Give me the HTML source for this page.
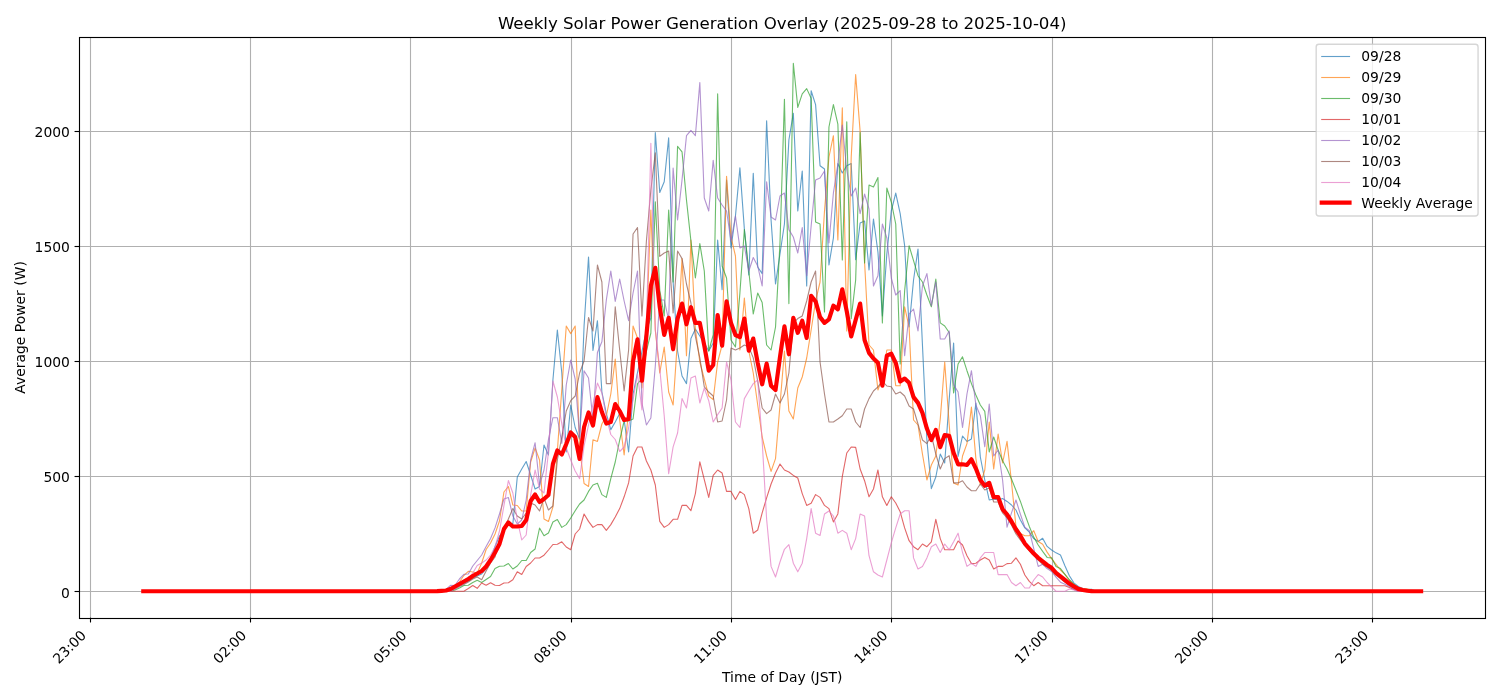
<!DOCTYPE html>
<html><head><meta charset="utf-8"><title>Weekly Solar Power Generation Overlay</title>
<style>html,body{margin:0;padding:0;background:#fff;overflow:hidden}svg{display:block}</style></head>
<body>
<svg width="1500" height="700" viewBox="0 0 1500 700">
<rect x="0" y="0" width="1500" height="700" fill="#ffffff"/>
<g stroke="#b0b0b0" stroke-width="1.11" fill="none">
<line x1="90.5" y1="37.33" x2="90.5" y2="617.63"/>
<line x1="250.5" y1="37.33" x2="250.5" y2="617.63"/>
<line x1="410.5" y1="37.33" x2="410.5" y2="617.63"/>
<line x1="571.5" y1="37.33" x2="571.5" y2="617.63"/>
<line x1="731.5" y1="37.33" x2="731.5" y2="617.63"/>
<line x1="891.5" y1="37.33" x2="891.5" y2="617.63"/>
<line x1="1052.5" y1="37.33" x2="1052.5" y2="617.63"/>
<line x1="1212.5" y1="37.33" x2="1212.5" y2="617.63"/>
<line x1="1372.5" y1="37.33" x2="1372.5" y2="617.63"/>
<line x1="79.4" y1="591.5" x2="1485.0" y2="591.5"/>
<line x1="79.4" y1="476.5" x2="1485.0" y2="476.5"/>
<line x1="79.4" y1="361.5" x2="1485.0" y2="361.5"/>
<line x1="79.4" y1="246.5" x2="1485.0" y2="246.5"/>
<line x1="79.4" y1="131.5" x2="1485.0" y2="131.5"/>
</g>
<g fill="none" stroke-linejoin="round" stroke-linecap="square">
<polyline points="143.29,591.25 147.75,591.25 152.20,591.25 156.65,591.25 161.10,591.25 165.56,591.25 170.01,591.25 174.46,591.25 178.91,591.25 183.36,591.25 187.82,591.25 192.27,591.25 196.72,591.25 201.17,591.25 205.63,591.25 210.08,591.25 214.53,591.25 218.98,591.25 223.44,591.25 227.89,591.25 232.34,591.25 236.79,591.25 241.24,591.25 245.70,591.25 250.15,591.25 254.60,591.25 259.05,591.25 263.51,591.25 267.96,591.25 272.41,591.25 276.86,591.25 281.32,591.25 285.77,591.25 290.22,591.25 294.67,591.25 299.12,591.25 303.58,591.25 308.03,591.25 312.48,591.25 316.93,591.25 321.39,591.25 325.84,591.25 330.29,591.25 334.74,591.25 339.20,591.25 343.65,591.25 348.10,591.25 352.55,591.25 357.00,591.25 361.46,591.25 365.91,591.25 370.36,591.25 374.81,591.25 379.27,591.25 383.72,591.25 388.17,591.25 392.62,591.25 397.08,591.25 401.53,591.25 405.98,591.25 410.43,591.25 414.89,591.25 419.34,591.25 423.79,591.25 428.24,591.25 432.69,591.25 437.15,591.25 441.60,591.25 446.05,591.25 450.50,591.20 454.96,588.50 459.41,586.00 463.86,583.50 468.31,581.00 472.77,578.00 477.22,576.00 481.67,574.00 486.12,569.00 490.57,559.00 495.03,546.50 499.48,536.00 503.93,530.00 508.38,523.00 512.84,524.00 517.29,477.00 521.74,469.00 526.19,461.50 530.65,475.00 535.10,489.00 539.55,486.50 544.00,445.00 548.45,455.00 552.91,380.00 557.36,330.00 561.81,373.00 566.26,452.00 570.72,405.00 575.17,427.50 579.62,439.00 584.07,326.00 588.53,257.00 592.98,350.40 597.43,320.70 601.88,392.00 606.33,413.60 610.79,429.60 615.24,422.00 619.69,413.60 624.14,420.00 628.60,452.00 633.05,394.00 637.50,372.67 641.95,351.34 646.41,330.00 650.86,318.00 655.31,132.51 659.76,192.51 664.22,181.81 668.67,137.91 673.12,282.00 677.57,351.00 682.02,376.00 686.48,383.60 690.93,338.60 695.38,329.00 699.83,336.00 704.29,343.00 708.74,351.00 713.19,343.00 717.64,240.00 722.10,289.60 726.55,180.01 731.00,248.00 735.45,216.00 739.90,167.91 744.36,229.00 748.81,275.00 753.26,173.21 757.71,267.00 762.17,273.60 766.62,120.71 771.07,220.00 775.52,284.00 779.98,254.00 784.43,224.00 788.88,140.01 793.33,113.21 797.78,211.00 802.24,171.01 806.69,286.00 811.14,90.71 815.59,104.61 820.05,165.71 824.50,169.01 828.95,265.00 833.40,238.00 837.86,163.61 842.31,173.01 846.76,165.71 851.21,163.61 855.66,259.60 860.12,223.00 864.57,221.00 869.02,270.00 873.47,219.00 877.93,252.00 882.38,316.00 886.83,254.00 891.28,211.00 895.74,193.01 900.19,213.60 904.64,245.70 909.09,327.00 913.54,280.00 918.00,249.00 922.45,345.00 926.90,440.00 931.35,488.60 935.81,477.00 940.26,454.00 944.71,463.00 949.16,400.00 953.62,343.00 958.07,456.40 962.52,436.00 966.97,441.40 971.43,439.00 975.88,403.00 980.33,457.00 984.78,480.00 989.23,500.00 993.69,499.00 998.14,500.00 1002.59,498.57 1007.04,501.43 1011.50,505.00 1015.95,510.00 1020.40,520.00 1024.85,527.86 1029.31,532.14 1033.76,538.57 1038.21,541.43 1042.66,538.29 1047.11,546.43 1051.57,550.00 1056.02,552.86 1060.47,555.00 1064.92,565.71 1069.38,575.71 1073.83,582.86 1078.28,586.43 1082.73,588.57 1087.19,589.29 1091.64,589.29 1096.09,591.25 1100.54,591.25 1104.99,591.25 1109.45,591.25 1113.90,591.25 1118.35,591.25 1122.80,591.25 1127.26,591.25 1131.71,591.25 1136.16,591.25 1140.61,591.25 1145.07,591.25 1149.52,591.25 1153.97,591.25 1158.42,591.25 1162.87,591.25 1167.33,591.25 1171.78,591.25 1176.23,591.25 1180.68,591.25 1185.14,591.25 1189.59,591.25 1194.04,591.25 1198.49,591.25 1202.95,591.25 1207.40,591.25 1211.85,591.25 1216.30,591.25 1220.76,591.25 1225.21,591.25 1229.66,591.25 1234.11,591.25 1238.56,591.25 1243.02,591.25 1247.47,591.25 1251.92,591.25 1256.37,591.25 1260.83,591.25 1265.28,591.25 1269.73,591.25 1274.18,591.25 1278.64,591.25 1283.09,591.25 1287.54,591.25 1291.99,591.25 1296.44,591.25 1300.90,591.25 1305.35,591.25 1309.80,591.25 1314.25,591.25 1318.71,591.25 1323.16,591.25 1327.61,591.25 1332.06,591.25 1336.52,591.25 1340.97,591.25 1345.42,591.25 1349.87,591.25 1354.32,591.25 1358.78,591.25 1363.23,591.25 1367.68,591.25 1372.13,591.25 1376.59,591.25 1381.04,591.25 1385.49,591.25 1389.94,591.25 1394.40,591.25 1398.85,591.25 1403.30,591.25 1407.75,591.25 1412.20,591.25 1416.66,591.25 1421.11,591.25" stroke="#1f77b4" stroke-width="1.11" stroke-opacity="0.7"/>
<polyline points="143.29,591.25 147.75,591.25 152.20,591.25 156.65,591.25 161.10,591.25 165.56,591.25 170.01,591.25 174.46,591.25 178.91,591.25 183.36,591.25 187.82,591.25 192.27,591.25 196.72,591.25 201.17,591.25 205.63,591.25 210.08,591.25 214.53,591.25 218.98,591.25 223.44,591.25 227.89,591.25 232.34,591.25 236.79,591.25 241.24,591.25 245.70,591.25 250.15,591.25 254.60,591.25 259.05,591.25 263.51,591.25 267.96,591.25 272.41,591.25 276.86,591.25 281.32,591.25 285.77,591.25 290.22,591.25 294.67,591.25 299.12,591.25 303.58,591.25 308.03,591.25 312.48,591.25 316.93,591.25 321.39,591.25 325.84,591.25 330.29,591.25 334.74,591.25 339.20,591.25 343.65,591.25 348.10,591.25 352.55,591.25 357.00,591.25 361.46,591.25 365.91,591.25 370.36,591.25 374.81,591.25 379.27,591.25 383.72,591.25 388.17,591.25 392.62,591.25 397.08,591.25 401.53,591.25 405.98,591.25 410.43,591.25 414.89,591.25 419.34,591.25 423.79,591.25 428.24,591.25 432.69,591.25 437.15,591.25 441.60,591.25 446.05,591.25 450.50,591.20 454.96,587.00 459.41,582.00 463.86,575.50 468.31,571.30 472.77,572.00 477.22,573.00 481.67,563.00 486.12,549.50 490.57,543.00 495.03,534.00 499.48,521.00 503.93,492.00 508.38,486.50 512.84,505.00 517.29,505.50 521.74,511.00 526.19,511.00 530.65,462.00 535.10,448.00 539.55,460.00 544.00,519.00 548.45,521.50 552.91,507.00 557.36,451.00 561.81,389.00 566.26,326.00 570.72,333.60 575.17,326.00 579.62,448.00 584.07,483.50 588.53,486.50 592.98,439.70 597.43,441.40 601.88,424.00 606.33,416.00 610.79,394.00 615.24,359.00 619.69,420.00 624.14,455.00 628.60,411.00 633.05,326.00 637.50,338.00 641.95,388.00 646.41,330.00 650.86,210.00 655.31,330.00 659.76,373.00 664.22,347.00 668.67,392.00 673.12,405.00 677.57,338.60 682.02,258.60 686.48,355.70 690.93,240.00 695.38,329.00 699.83,362.00 704.29,379.00 708.74,396.00 713.19,399.60 717.64,362.00 722.10,345.00 726.55,176.41 731.00,237.00 735.45,256.00 739.90,350.00 744.36,298.00 748.81,351.00 753.26,373.00 757.71,405.00 762.17,437.00 766.62,456.00 771.07,471.40 775.52,458.60 779.98,405.00 784.43,351.00 788.88,411.00 793.33,419.00 797.78,388.00 802.24,377.00 806.69,358.00 811.14,330.00 815.59,301.00 820.05,282.00 824.50,211.00 828.95,157.01 833.40,135.71 837.86,240.00 842.31,107.91 846.76,331.00 851.21,157.01 855.66,74.61 860.12,131.41 864.57,262.00 869.02,345.00 873.47,350.00 877.93,390.00 882.38,378.00 886.83,350.00 891.28,350.00 895.74,385.70 900.19,385.70 904.64,306.80 909.09,327.00 913.54,420.00 918.00,425.00 922.45,454.00 926.90,480.00 931.35,465.00 935.81,456.00 940.26,419.00 944.71,362.00 949.16,424.00 953.62,483.00 958.07,485.00 962.52,456.00 966.97,443.60 971.43,407.00 975.88,458.60 980.33,485.00 984.78,470.00 989.23,422.00 993.69,469.00 998.14,434.00 1002.59,463.00 1007.04,441.40 1011.50,482.00 1015.95,526.43 1020.40,533.57 1024.85,535.72 1029.31,535.72 1033.76,530.72 1038.21,541.43 1042.66,544.29 1047.11,552.14 1051.57,558.57 1056.02,564.29 1060.47,570.00 1064.92,574.29 1069.38,580.00 1073.83,584.29 1078.28,587.86 1082.73,588.57 1087.19,588.86 1091.64,590.00 1096.09,591.25 1100.54,591.25 1104.99,591.25 1109.45,591.25 1113.90,591.25 1118.35,591.25 1122.80,591.25 1127.26,591.25 1131.71,591.25 1136.16,591.25 1140.61,591.25 1145.07,591.25 1149.52,591.25 1153.97,591.25 1158.42,591.25 1162.87,591.25 1167.33,591.25 1171.78,591.25 1176.23,591.25 1180.68,591.25 1185.14,591.25 1189.59,591.25 1194.04,591.25 1198.49,591.25 1202.95,591.25 1207.40,591.25 1211.85,591.25 1216.30,591.25 1220.76,591.25 1225.21,591.25 1229.66,591.25 1234.11,591.25 1238.56,591.25 1243.02,591.25 1247.47,591.25 1251.92,591.25 1256.37,591.25 1260.83,591.25 1265.28,591.25 1269.73,591.25 1274.18,591.25 1278.64,591.25 1283.09,591.25 1287.54,591.25 1291.99,591.25 1296.44,591.25 1300.90,591.25 1305.35,591.25 1309.80,591.25 1314.25,591.25 1318.71,591.25 1323.16,591.25 1327.61,591.25 1332.06,591.25 1336.52,591.25 1340.97,591.25 1345.42,591.25 1349.87,591.25 1354.32,591.25 1358.78,591.25 1363.23,591.25 1367.68,591.25 1372.13,591.25 1376.59,591.25 1381.04,591.25 1385.49,591.25 1389.94,591.25 1394.40,591.25 1398.85,591.25 1403.30,591.25 1407.75,591.25 1412.20,591.25 1416.66,591.25 1421.11,591.25" stroke="#ff7f0e" stroke-width="1.11" stroke-opacity="0.7"/>
<polyline points="143.29,591.25 147.75,591.25 152.20,591.25 156.65,591.25 161.10,591.25 165.56,591.25 170.01,591.25 174.46,591.25 178.91,591.25 183.36,591.25 187.82,591.25 192.27,591.25 196.72,591.25 201.17,591.25 205.63,591.25 210.08,591.25 214.53,591.25 218.98,591.25 223.44,591.25 227.89,591.25 232.34,591.25 236.79,591.25 241.24,591.25 245.70,591.25 250.15,591.25 254.60,591.25 259.05,591.25 263.51,591.25 267.96,591.25 272.41,591.25 276.86,591.25 281.32,591.25 285.77,591.25 290.22,591.25 294.67,591.25 299.12,591.25 303.58,591.25 308.03,591.25 312.48,591.25 316.93,591.25 321.39,591.25 325.84,591.25 330.29,591.25 334.74,591.25 339.20,591.25 343.65,591.25 348.10,591.25 352.55,591.25 357.00,591.25 361.46,591.25 365.91,591.25 370.36,591.25 374.81,591.25 379.27,591.25 383.72,591.25 388.17,591.25 392.62,591.25 397.08,591.25 401.53,591.25 405.98,591.25 410.43,591.25 414.89,591.25 419.34,591.25 423.79,591.25 428.24,591.25 432.69,591.25 437.15,591.25 441.60,591.25 446.05,591.25 450.50,591.20 454.96,590.00 459.41,588.00 463.86,585.50 468.31,585.30 472.77,582.50 477.22,580.30 481.67,582.50 486.12,579.50 490.57,576.50 495.03,568.50 499.48,566.30 503.93,566.00 508.38,563.50 512.84,569.00 517.29,566.00 521.74,560.50 526.19,560.50 530.65,552.50 535.10,549.00 539.55,528.00 544.00,535.70 548.45,533.00 552.91,522.00 557.36,519.50 561.81,527.40 566.26,524.60 570.72,518.00 575.17,510.70 579.62,504.00 584.07,500.00 588.53,491.40 592.98,485.00 597.43,483.30 601.88,494.60 606.33,497.40 610.79,478.60 615.24,462.00 619.69,440.00 624.14,421.00 628.60,421.00 633.05,419.00 637.50,383.60 641.95,379.00 646.41,351.00 650.86,333.00 655.31,201.81 659.76,290.00 664.22,316.00 668.67,210.00 673.12,282.00 677.57,146.41 682.02,151.81 686.48,200.01 690.93,241.00 695.38,278.00 699.83,243.60 704.29,271.00 708.74,351.00 713.19,335.00 717.64,93.91 722.10,266.00 726.55,278.00 731.00,340.00 735.45,347.00 739.90,293.00 744.36,229.60 748.81,271.00 753.26,314.00 757.71,293.00 762.17,302.50 766.62,345.00 771.07,350.00 775.52,327.00 779.98,243.00 784.43,99.31 788.88,303.60 793.33,63.31 797.78,107.41 802.24,93.91 806.69,88.61 811.14,98.21 815.59,222.00 820.05,224.00 824.50,312.00 828.95,127.01 833.40,104.61 837.86,124.01 842.31,260.00 846.76,121.81 851.21,318.60 855.66,280.00 860.12,132.51 864.57,263.00 869.02,185.01 873.47,187.01 877.93,177.51 882.38,323.00 886.83,188.01 891.28,202.01 895.74,224.00 900.19,364.00 904.64,290.70 909.09,245.70 913.54,260.70 918.00,275.70 922.45,282.00 926.90,295.00 931.35,306.80 935.81,279.00 940.26,322.90 944.71,326.00 949.16,332.50 953.62,393.00 958.07,364.00 962.52,356.80 966.97,370.70 971.43,383.60 975.88,395.00 980.33,405.00 984.78,411.40 989.23,452.00 993.69,437.00 998.14,450.00 1002.59,460.70 1007.04,469.00 1011.50,479.00 1015.95,490.22 1020.40,501.43 1024.85,514.29 1029.31,526.43 1033.76,537.14 1038.21,545.00 1042.66,551.43 1047.11,557.43 1051.57,557.86 1056.02,566.43 1060.47,568.57 1064.92,574.29 1069.38,580.00 1073.83,584.29 1078.28,587.86 1082.73,590.00 1087.19,591.25 1091.64,591.25 1096.09,591.25 1100.54,591.25 1104.99,591.25 1109.45,591.25 1113.90,591.25 1118.35,591.25 1122.80,591.25 1127.26,591.25 1131.71,591.25 1136.16,591.25 1140.61,591.25 1145.07,591.25 1149.52,591.25 1153.97,591.25 1158.42,591.25 1162.87,591.25 1167.33,591.25 1171.78,591.25 1176.23,591.25 1180.68,591.25 1185.14,591.25 1189.59,591.25 1194.04,591.25 1198.49,591.25 1202.95,591.25 1207.40,591.25 1211.85,591.25 1216.30,591.25 1220.76,591.25 1225.21,591.25 1229.66,591.25 1234.11,591.25 1238.56,591.25 1243.02,591.25 1247.47,591.25 1251.92,591.25 1256.37,591.25 1260.83,591.25 1265.28,591.25 1269.73,591.25 1274.18,591.25 1278.64,591.25 1283.09,591.25 1287.54,591.25 1291.99,591.25 1296.44,591.25 1300.90,591.25 1305.35,591.25 1309.80,591.25 1314.25,591.25 1318.71,591.25 1323.16,591.25 1327.61,591.25 1332.06,591.25 1336.52,591.25 1340.97,591.25 1345.42,591.25 1349.87,591.25 1354.32,591.25 1358.78,591.25 1363.23,591.25 1367.68,591.25 1372.13,591.25 1376.59,591.25 1381.04,591.25 1385.49,591.25 1389.94,591.25 1394.40,591.25 1398.85,591.25 1403.30,591.25 1407.75,591.25 1412.20,591.25 1416.66,591.25 1421.11,591.25" stroke="#2ca02c" stroke-width="1.11" stroke-opacity="0.7"/>
<polyline points="143.29,591.25 147.75,591.25 152.20,591.25 156.65,591.25 161.10,591.25 165.56,591.25 170.01,591.25 174.46,591.25 178.91,591.25 183.36,591.25 187.82,591.25 192.27,591.25 196.72,591.25 201.17,591.25 205.63,591.25 210.08,591.25 214.53,591.25 218.98,591.25 223.44,591.25 227.89,591.25 232.34,591.25 236.79,591.25 241.24,591.25 245.70,591.25 250.15,591.25 254.60,591.25 259.05,591.25 263.51,591.25 267.96,591.25 272.41,591.25 276.86,591.25 281.32,591.25 285.77,591.25 290.22,591.25 294.67,591.25 299.12,591.25 303.58,591.25 308.03,591.25 312.48,591.25 316.93,591.25 321.39,591.25 325.84,591.25 330.29,591.25 334.74,591.25 339.20,591.25 343.65,591.25 348.10,591.25 352.55,591.25 357.00,591.25 361.46,591.25 365.91,591.25 370.36,591.25 374.81,591.25 379.27,591.25 383.72,591.25 388.17,591.25 392.62,591.25 397.08,591.25 401.53,591.25 405.98,591.25 410.43,591.25 414.89,591.25 419.34,591.25 423.79,591.25 428.24,591.25 432.69,591.25 437.15,591.25 441.60,591.25 446.05,591.25 450.50,591.25 454.96,591.25 459.41,591.25 463.86,591.20 468.31,588.50 472.77,585.50 477.22,588.30 481.67,583.00 486.12,585.30 490.57,582.70 495.03,585.30 499.48,585.50 503.93,583.00 508.38,582.70 512.84,579.70 517.29,571.80 521.74,574.50 526.19,566.50 530.65,563.00 535.10,558.00 539.55,558.00 544.00,555.20 548.45,550.00 552.91,544.50 557.36,544.30 561.81,541.80 566.26,547.00 570.72,549.70 575.17,534.00 579.62,529.00 584.07,514.00 588.53,521.40 592.98,527.40 597.43,524.60 601.88,524.60 606.33,530.40 610.79,524.60 615.24,517.00 619.69,508.60 624.14,496.80 628.60,482.90 633.05,456.00 637.50,447.00 641.95,447.00 646.41,461.00 650.86,470.00 655.31,485.00 659.76,521.40 664.22,527.40 668.67,524.60 673.12,519.30 677.57,519.30 682.02,505.40 686.48,505.40 690.93,510.70 695.38,493.60 699.83,461.80 704.29,479.60 708.74,497.40 713.19,475.40 717.64,470.00 722.10,473.00 726.55,491.40 731.00,491.40 735.45,499.60 739.90,491.40 744.36,494.60 748.81,508.60 753.26,533.20 757.71,530.00 762.17,512.90 766.62,497.90 771.07,484.00 775.52,473.00 779.98,464.00 784.43,470.00 788.88,472.00 793.33,475.40 797.78,478.00 802.24,493.60 806.69,505.40 811.14,503.20 815.59,494.60 820.05,497.40 824.50,505.40 828.95,508.60 833.40,521.90 837.86,513.90 842.31,476.40 846.76,453.00 851.21,447.00 855.66,447.40 860.12,469.00 864.57,480.70 869.02,496.80 873.47,489.00 877.93,470.00 882.38,496.80 886.83,505.40 891.28,496.80 895.74,503.00 900.19,511.80 904.64,527.90 909.09,540.70 913.54,546.70 918.00,549.70 922.45,544.00 926.90,546.70 931.35,541.80 935.81,519.30 940.26,538.60 944.71,549.70 949.16,549.70 953.62,549.70 958.07,541.00 962.52,545.00 966.97,555.70 971.43,563.60 975.88,563.20 980.33,560.00 984.78,557.40 989.23,560.00 993.69,569.00 998.14,566.40 1002.59,566.40 1007.04,563.60 1011.50,563.20 1015.95,557.90 1020.40,564.30 1024.85,575.00 1029.31,581.40 1033.76,585.70 1038.21,582.50 1042.66,585.70 1047.11,585.70 1051.57,585.70 1056.02,585.70 1060.47,585.70 1064.92,585.70 1069.38,587.50 1073.83,589.50 1078.28,591.25 1082.73,591.25 1087.19,591.25 1091.64,591.25 1096.09,591.25 1100.54,591.25 1104.99,591.25 1109.45,591.25 1113.90,591.25 1118.35,591.25 1122.80,591.25 1127.26,591.25 1131.71,591.25 1136.16,591.25 1140.61,591.25 1145.07,591.25 1149.52,591.25 1153.97,591.25 1158.42,591.25 1162.87,591.25 1167.33,591.25 1171.78,591.25 1176.23,591.25 1180.68,591.25 1185.14,591.25 1189.59,591.25 1194.04,591.25 1198.49,591.25 1202.95,591.25 1207.40,591.25 1211.85,591.25 1216.30,591.25 1220.76,591.25 1225.21,591.25 1229.66,591.25 1234.11,591.25 1238.56,591.25 1243.02,591.25 1247.47,591.25 1251.92,591.25 1256.37,591.25 1260.83,591.25 1265.28,591.25 1269.73,591.25 1274.18,591.25 1278.64,591.25 1283.09,591.25 1287.54,591.25 1291.99,591.25 1296.44,591.25 1300.90,591.25 1305.35,591.25 1309.80,591.25 1314.25,591.25 1318.71,591.25 1323.16,591.25 1327.61,591.25 1332.06,591.25 1336.52,591.25 1340.97,591.25 1345.42,591.25 1349.87,591.25 1354.32,591.25 1358.78,591.25 1363.23,591.25 1367.68,591.25 1372.13,591.25 1376.59,591.25 1381.04,591.25 1385.49,591.25 1389.94,591.25 1394.40,591.25 1398.85,591.25 1403.30,591.25 1407.75,591.25 1412.20,591.25 1416.66,591.25 1421.11,591.25" stroke="#d62728" stroke-width="1.11" stroke-opacity="0.7"/>
<polyline points="143.29,591.25 147.75,591.25 152.20,591.25 156.65,591.25 161.10,591.25 165.56,591.25 170.01,591.25 174.46,591.25 178.91,591.25 183.36,591.25 187.82,591.25 192.27,591.25 196.72,591.25 201.17,591.25 205.63,591.25 210.08,591.25 214.53,591.25 218.98,591.25 223.44,591.25 227.89,591.25 232.34,591.25 236.79,591.25 241.24,591.25 245.70,591.25 250.15,591.25 254.60,591.25 259.05,591.25 263.51,591.25 267.96,591.25 272.41,591.25 276.86,591.25 281.32,591.25 285.77,591.25 290.22,591.25 294.67,591.25 299.12,591.25 303.58,591.25 308.03,591.25 312.48,591.25 316.93,591.25 321.39,591.25 325.84,591.25 330.29,591.25 334.74,591.25 339.20,591.25 343.65,591.25 348.10,591.25 352.55,591.25 357.00,591.25 361.46,591.25 365.91,591.25 370.36,591.25 374.81,591.25 379.27,591.25 383.72,591.25 388.17,591.25 392.62,591.25 397.08,591.25 401.53,591.25 405.98,591.25 410.43,591.25 414.89,591.25 419.34,591.25 423.79,591.25 428.24,591.25 432.69,591.25 437.15,591.25 441.60,591.20 446.05,589.50 450.50,585.30 454.96,585.50 459.41,579.00 463.86,574.30 468.31,574.00 472.77,566.00 477.22,560.50 481.67,555.00 486.12,546.50 490.57,538.50 495.03,527.90 499.48,514.00 503.93,499.00 508.38,497.50 512.84,516.00 517.29,524.00 521.74,520.00 526.19,500.00 530.65,460.00 535.10,442.70 539.55,485.00 544.00,470.00 548.45,439.50 552.91,417.70 557.36,417.70 561.81,443.50 566.26,385.00 570.72,360.00 575.17,379.00 579.62,437.00 584.07,370.70 588.53,378.00 592.98,420.00 597.43,352.50 601.88,341.80 606.33,300.00 610.79,271.00 615.24,301.40 619.69,279.00 624.14,301.00 628.60,320.70 633.05,293.00 637.50,271.00 641.95,403.00 646.41,425.00 650.86,418.00 655.31,366.00 659.76,300.00 664.22,300.00 668.67,320.00 673.12,168.01 677.57,220.00 682.02,180.01 686.48,135.71 690.93,130.41 695.38,135.71 699.83,82.61 704.29,198.01 708.74,211.00 713.19,160.41 717.64,198.01 722.10,205.01 726.55,211.00 731.00,241.00 735.45,216.00 739.90,248.00 744.36,246.00 748.81,271.00 753.26,257.50 757.71,266.00 762.17,286.00 766.62,181.81 771.07,217.00 775.52,220.00 779.98,196.01 784.43,193.01 788.88,229.60 793.33,237.00 797.78,253.00 802.24,227.50 806.69,275.70 811.14,226.00 815.59,180.01 820.05,178.01 824.50,171.01 828.95,243.00 833.40,193.01 837.86,164.01 842.31,125.01 846.76,170.01 851.21,196.01 855.66,188.01 860.12,213.60 864.57,194.01 869.02,209.00 873.47,286.00 877.93,275.70 882.38,224.00 886.83,238.00 891.28,278.00 895.74,295.00 900.19,290.70 904.64,355.70 909.09,314.00 913.54,309.00 918.00,331.00 922.45,286.00 926.90,273.60 931.35,305.70 935.81,282.00 940.26,339.00 944.71,339.00 949.16,331.00 953.62,384.60 958.07,392.00 962.52,427.50 966.97,394.00 971.43,370.70 975.88,405.00 980.33,415.70 984.78,446.80 989.23,404.00 993.69,456.00 998.14,450.00 1002.59,480.00 1007.04,527.14 1011.50,512.86 1015.95,500.00 1020.40,514.29 1024.85,527.14 1029.31,530.72 1033.76,548.57 1038.21,566.43 1042.66,564.29 1047.11,568.57 1051.57,571.43 1056.02,577.14 1060.47,582.14 1064.92,584.29 1069.38,586.43 1073.83,589.29 1078.28,591.25 1082.73,591.25 1087.19,591.25 1091.64,591.25 1096.09,591.25 1100.54,591.25 1104.99,591.25 1109.45,591.25 1113.90,591.25 1118.35,591.25 1122.80,591.25 1127.26,591.25 1131.71,591.25 1136.16,591.25 1140.61,591.25 1145.07,591.25 1149.52,591.25 1153.97,591.25 1158.42,591.25 1162.87,591.25 1167.33,591.25 1171.78,591.25 1176.23,591.25 1180.68,591.25 1185.14,591.25 1189.59,591.25 1194.04,591.25 1198.49,591.25 1202.95,591.25 1207.40,591.25 1211.85,591.25 1216.30,591.25 1220.76,591.25 1225.21,591.25 1229.66,591.25 1234.11,591.25 1238.56,591.25 1243.02,591.25 1247.47,591.25 1251.92,591.25 1256.37,591.25 1260.83,591.25 1265.28,591.25 1269.73,591.25 1274.18,591.25 1278.64,591.25 1283.09,591.25 1287.54,591.25 1291.99,591.25 1296.44,591.25 1300.90,591.25 1305.35,591.25 1309.80,591.25 1314.25,591.25 1318.71,591.25 1323.16,591.25 1327.61,591.25 1332.06,591.25 1336.52,591.25 1340.97,591.25 1345.42,591.25 1349.87,591.25 1354.32,591.25 1358.78,591.25 1363.23,591.25 1367.68,591.25 1372.13,591.25 1376.59,591.25 1381.04,591.25 1385.49,591.25 1389.94,591.25 1394.40,591.25 1398.85,591.25 1403.30,591.25 1407.75,591.25 1412.20,591.25 1416.66,591.25 1421.11,591.25" stroke="#9467bd" stroke-width="1.11" stroke-opacity="0.7"/>
<polyline points="143.29,591.25 147.75,591.25 152.20,591.25 156.65,591.25 161.10,591.25 165.56,591.25 170.01,591.25 174.46,591.25 178.91,591.25 183.36,591.25 187.82,591.25 192.27,591.25 196.72,591.25 201.17,591.25 205.63,591.25 210.08,591.25 214.53,591.25 218.98,591.25 223.44,591.25 227.89,591.25 232.34,591.25 236.79,591.25 241.24,591.25 245.70,591.25 250.15,591.25 254.60,591.25 259.05,591.25 263.51,591.25 267.96,591.25 272.41,591.25 276.86,591.25 281.32,591.25 285.77,591.25 290.22,591.25 294.67,591.25 299.12,591.25 303.58,591.25 308.03,591.25 312.48,591.25 316.93,591.25 321.39,591.25 325.84,591.25 330.29,591.25 334.74,591.25 339.20,591.25 343.65,591.25 348.10,591.25 352.55,591.25 357.00,591.25 361.46,591.25 365.91,591.25 370.36,591.25 374.81,591.25 379.27,591.25 383.72,591.25 388.17,591.25 392.62,591.25 397.08,591.25 401.53,591.25 405.98,591.25 410.43,591.25 414.89,591.25 419.34,591.25 423.79,591.25 428.24,591.25 432.69,591.25 437.15,591.25 441.60,591.25 446.05,591.25 450.50,591.20 454.96,589.00 459.41,586.50 463.86,584.50 468.31,582.00 472.77,579.00 477.22,577.00 481.67,579.70 486.12,571.00 490.57,563.00 495.03,557.00 499.48,540.00 503.93,530.00 508.38,519.00 512.84,508.50 517.29,516.00 521.74,519.00 526.19,513.00 530.65,503.00 535.10,505.00 539.55,511.00 544.00,498.00 548.45,510.00 552.91,506.00 557.36,460.00 561.81,437.00 566.26,411.00 570.72,400.70 575.17,396.00 579.62,373.00 584.07,361.00 588.53,317.50 592.98,331.00 597.43,265.00 601.88,282.00 606.33,383.60 610.79,383.60 615.24,306.80 619.69,350.00 624.14,391.00 628.60,350.00 633.05,234.00 637.50,227.50 641.95,316.00 646.41,241.00 650.86,190.01 655.31,152.91 659.76,256.40 664.22,253.00 668.67,251.00 673.12,313.00 677.57,251.00 682.02,258.60 686.48,284.00 690.93,303.00 695.38,336.40 699.83,357.90 704.29,386.80 708.74,392.00 713.19,396.00 717.64,422.00 722.10,421.00 726.55,400.00 731.00,348.00 735.45,350.00 739.90,348.00 744.36,345.00 748.81,347.00 753.26,357.90 757.71,381.00 762.17,408.00 766.62,413.60 771.07,410.00 775.52,394.00 779.98,403.00 784.43,394.00 788.88,373.00 793.33,322.90 797.78,318.60 802.24,316.00 806.69,301.00 811.14,282.00 815.59,271.00 820.05,362.00 824.50,394.00 828.95,422.00 833.40,422.00 837.86,419.00 842.31,415.70 846.76,409.00 851.21,409.00 855.66,422.00 860.12,427.50 864.57,409.00 869.02,398.60 873.47,391.00 877.93,386.80 882.38,381.00 886.83,386.00 891.28,386.80 895.74,394.00 900.19,392.00 904.64,396.00 909.09,406.00 913.54,409.00 918.00,424.00 922.45,440.00 926.90,443.60 931.35,435.00 935.81,454.00 940.26,469.00 944.71,458.60 949.16,455.70 953.62,482.90 958.07,482.90 962.52,480.70 966.97,487.00 971.43,490.70 975.88,490.70 980.33,484.00 984.78,490.00 989.23,488.00 993.69,502.00 998.14,502.00 1002.59,513.00 1007.04,518.00 1011.50,525.00 1015.95,534.00 1020.40,539.86 1024.85,545.71 1029.31,550.71 1033.76,555.71 1038.21,560.00 1042.66,564.29 1047.11,567.14 1051.57,570.29 1056.02,575.00 1060.47,578.57 1064.92,582.14 1069.38,585.43 1073.83,587.86 1078.28,590.00 1082.73,591.25 1087.19,591.25 1091.64,591.25 1096.09,591.25 1100.54,591.25 1104.99,591.25 1109.45,591.25 1113.90,591.25 1118.35,591.25 1122.80,591.25 1127.26,591.25 1131.71,591.25 1136.16,591.25 1140.61,591.25 1145.07,591.25 1149.52,591.25 1153.97,591.25 1158.42,591.25 1162.87,591.25 1167.33,591.25 1171.78,591.25 1176.23,591.25 1180.68,591.25 1185.14,591.25 1189.59,591.25 1194.04,591.25 1198.49,591.25 1202.95,591.25 1207.40,591.25 1211.85,591.25 1216.30,591.25 1220.76,591.25 1225.21,591.25 1229.66,591.25 1234.11,591.25 1238.56,591.25 1243.02,591.25 1247.47,591.25 1251.92,591.25 1256.37,591.25 1260.83,591.25 1265.28,591.25 1269.73,591.25 1274.18,591.25 1278.64,591.25 1283.09,591.25 1287.54,591.25 1291.99,591.25 1296.44,591.25 1300.90,591.25 1305.35,591.25 1309.80,591.25 1314.25,591.25 1318.71,591.25 1323.16,591.25 1327.61,591.25 1332.06,591.25 1336.52,591.25 1340.97,591.25 1345.42,591.25 1349.87,591.25 1354.32,591.25 1358.78,591.25 1363.23,591.25 1367.68,591.25 1372.13,591.25 1376.59,591.25 1381.04,591.25 1385.49,591.25 1389.94,591.25 1394.40,591.25 1398.85,591.25 1403.30,591.25 1407.75,591.25 1412.20,591.25 1416.66,591.25 1421.11,591.25" stroke="#8c564b" stroke-width="1.11" stroke-opacity="0.7"/>
<polyline points="143.29,591.25 147.75,591.25 152.20,591.25 156.65,591.25 161.10,591.25 165.56,591.25 170.01,591.25 174.46,591.25 178.91,591.25 183.36,591.25 187.82,591.25 192.27,591.25 196.72,591.25 201.17,591.25 205.63,591.25 210.08,591.25 214.53,591.25 218.98,591.25 223.44,591.25 227.89,591.25 232.34,591.25 236.79,591.25 241.24,591.25 245.70,591.25 250.15,591.25 254.60,591.25 259.05,591.25 263.51,591.25 267.96,591.25 272.41,591.25 276.86,591.25 281.32,591.25 285.77,591.25 290.22,591.25 294.67,591.25 299.12,591.25 303.58,591.25 308.03,591.25 312.48,591.25 316.93,591.25 321.39,591.25 325.84,591.25 330.29,591.25 334.74,591.25 339.20,591.25 343.65,591.25 348.10,591.25 352.55,591.25 357.00,591.25 361.46,591.25 365.91,591.25 370.36,591.25 374.81,591.25 379.27,591.25 383.72,591.25 388.17,591.25 392.62,591.25 397.08,591.25 401.53,591.25 405.98,591.25 410.43,591.25 414.89,591.25 419.34,591.25 423.79,591.25 428.24,591.25 432.69,591.25 437.15,591.25 441.60,591.25 446.05,591.25 450.50,591.20 454.96,589.00 459.41,586.00 463.86,583.00 468.31,579.00 472.77,573.00 477.22,565.50 481.67,563.00 486.12,560.00 490.57,555.00 495.03,547.00 499.48,531.00 503.93,505.70 508.38,480.50 512.84,493.00 517.29,520.00 521.74,540.00 526.19,535.00 530.65,495.00 535.10,470.00 539.55,489.00 544.00,493.00 548.45,452.00 552.91,381.00 557.36,397.00 561.81,424.00 566.26,448.00 570.72,460.00 575.17,471.00 579.62,478.60 584.07,446.00 588.53,425.00 592.98,404.00 597.43,383.00 601.88,393.00 606.33,417.00 610.79,434.50 615.24,439.50 619.69,451.50 624.14,447.00 628.60,428.00 633.05,400.00 637.50,374.00 641.95,410.00 646.41,330.00 650.86,143.21 655.31,330.00 659.76,368.60 664.22,415.70 668.67,473.60 673.12,446.80 677.57,433.00 682.02,398.60 686.48,408.00 690.93,378.00 695.38,376.00 699.83,403.00 704.29,388.00 708.74,400.70 713.19,422.00 717.64,414.60 722.10,408.00 726.55,362.00 731.00,380.00 735.45,422.00 739.90,427.50 744.36,398.60 748.81,391.00 753.26,383.60 757.71,380.00 762.17,441.00 766.62,519.30 771.07,566.40 775.52,577.00 779.98,562.00 784.43,549.30 788.88,544.60 793.33,563.20 797.78,571.80 802.24,563.20 806.69,538.60 811.14,508.60 815.59,533.20 820.05,535.40 824.50,514.00 828.95,511.00 833.40,516.00 837.86,533.20 842.31,530.40 846.76,533.20 851.21,549.70 855.66,538.60 860.12,514.00 864.57,516.00 869.02,555.70 873.47,571.80 877.93,575.00 882.38,577.00 886.83,560.00 891.28,542.90 895.74,527.90 900.19,514.00 904.64,510.70 909.09,510.70 913.54,557.90 918.00,569.00 922.45,566.40 926.90,557.90 931.35,546.70 935.81,544.00 940.26,552.50 944.71,544.00 949.16,549.70 953.62,541.80 958.07,533.20 962.52,552.50 966.97,566.40 971.43,563.20 975.88,566.40 980.33,557.90 984.78,552.50 989.23,552.50 993.69,552.50 998.14,574.60 1002.59,574.60 1007.04,574.60 1011.50,582.50 1015.95,585.70 1020.40,582.50 1024.85,588.00 1029.31,588.00 1033.76,580.00 1038.21,574.60 1042.66,577.00 1047.11,582.50 1051.57,586.80 1056.02,591.25 1060.47,591.25 1064.92,591.25 1069.38,589.00 1073.83,590.00 1078.28,591.25 1082.73,591.25 1087.19,591.25 1091.64,591.25 1096.09,591.25 1100.54,591.25 1104.99,591.25 1109.45,591.25 1113.90,591.25 1118.35,591.25 1122.80,591.25 1127.26,591.25 1131.71,591.25 1136.16,591.25 1140.61,591.25 1145.07,591.25 1149.52,591.25 1153.97,591.25 1158.42,591.25 1162.87,591.25 1167.33,591.25 1171.78,591.25 1176.23,591.25 1180.68,591.25 1185.14,591.25 1189.59,591.25 1194.04,591.25 1198.49,591.25 1202.95,591.25 1207.40,591.25 1211.85,591.25 1216.30,591.25 1220.76,591.25 1225.21,591.25 1229.66,591.25 1234.11,591.25 1238.56,591.25 1243.02,591.25 1247.47,591.25 1251.92,591.25 1256.37,591.25 1260.83,591.25 1265.28,591.25 1269.73,591.25 1274.18,591.25 1278.64,591.25 1283.09,591.25 1287.54,591.25 1291.99,591.25 1296.44,591.25 1300.90,591.25 1305.35,591.25 1309.80,591.25 1314.25,591.25 1318.71,591.25 1323.16,591.25 1327.61,591.25 1332.06,591.25 1336.52,591.25 1340.97,591.25 1345.42,591.25 1349.87,591.25 1354.32,591.25 1358.78,591.25 1363.23,591.25 1367.68,591.25 1372.13,591.25 1376.59,591.25 1381.04,591.25 1385.49,591.25 1389.94,591.25 1394.40,591.25 1398.85,591.25 1403.30,591.25 1407.75,591.25 1412.20,591.25 1416.66,591.25 1421.11,591.25" stroke="#e377c2" stroke-width="1.11" stroke-opacity="0.7"/>
<polyline points="143.29,591.25 147.75,591.25 152.20,591.25 156.65,591.25 161.10,591.25 165.56,591.25 170.01,591.25 174.46,591.25 178.91,591.25 183.36,591.25 187.82,591.25 192.27,591.25 196.72,591.25 201.17,591.25 205.63,591.25 210.08,591.25 214.53,591.25 218.98,591.25 223.44,591.25 227.89,591.25 232.34,591.25 236.79,591.25 241.24,591.25 245.70,591.25 250.15,591.25 254.60,591.25 259.05,591.25 263.51,591.25 267.96,591.25 272.41,591.25 276.86,591.25 281.32,591.25 285.77,591.25 290.22,591.25 294.67,591.25 299.12,591.25 303.58,591.25 308.03,591.25 312.48,591.25 316.93,591.25 321.39,591.25 325.84,591.25 330.29,591.25 334.74,591.25 339.20,591.25 343.65,591.25 348.10,591.25 352.55,591.25 357.00,591.25 361.46,591.25 365.91,591.25 370.36,591.25 374.81,591.25 379.27,591.25 383.72,591.25 388.17,591.25 392.62,591.25 397.08,591.25 401.53,591.25 405.98,591.25 410.43,591.25 414.89,591.25 419.34,591.25 423.79,591.25 428.24,591.25 432.69,591.25 437.15,591.20 441.60,590.80 446.05,590.50 450.50,589.00 454.96,586.50 459.41,584.00 463.86,581.50 468.31,579.00 472.77,576.00 477.22,573.50 481.67,571.00 486.12,566.50 490.57,560.00 495.03,552.50 499.48,544.00 503.93,529.00 508.38,522.50 512.84,526.50 517.29,526.50 521.74,526.00 526.19,520.00 530.65,501.00 535.10,494.50 539.55,502.00 544.00,499.00 548.45,495.00 552.91,464.00 557.36,450.50 561.81,454.50 566.26,444.00 570.72,432.50 575.17,437.00 579.62,459.00 584.07,427.00 588.53,412.50 592.98,425.50 597.43,397.00 601.88,412.00 606.33,423.50 610.79,422.00 615.24,404.00 619.69,411.00 624.14,420.00 628.60,419.00 633.05,361.43 637.50,339.29 641.95,380.72 646.41,335.72 650.86,285.72 655.31,267.86 659.76,307.15 664.22,335.00 668.67,317.86 673.12,349.29 677.57,318.57 682.02,303.58 686.48,324.29 690.93,307.15 695.38,322.86 699.83,322.86 704.29,345.72 708.74,370.72 713.19,365.00 717.64,315.00 722.10,345.72 726.55,301.43 731.00,322.86 735.45,335.00 739.90,337.15 744.36,318.57 748.81,350.72 753.26,338.57 757.71,362.86 762.17,384.29 766.62,363.57 771.07,385.72 775.52,390.00 779.98,357.15 784.43,326.43 788.88,354.29 793.33,317.86 797.78,332.86 802.24,320.72 806.69,337.86 811.14,295.72 815.59,301.43 820.05,317.15 824.50,322.86 828.95,319.29 833.40,305.72 837.86,309.29 842.31,289.29 846.76,311.43 851.21,336.43 855.66,320.00 860.12,303.58 864.57,340.00 869.02,352.86 873.47,358.57 877.93,362.86 882.38,385.72 886.83,355.72 891.28,353.57 895.74,362.86 900.19,381.43 904.64,378.57 909.09,382.86 913.54,397.15 918.00,402.86 922.45,412.86 926.90,428.57 931.35,440.00 935.81,430.00 940.26,447.14 944.71,435.00 949.16,435.72 953.62,452.86 958.07,464.29 962.52,464.29 966.97,465.00 971.43,459.29 975.88,468.57 980.33,480.00 984.78,485.72 989.23,482.86 993.69,497.14 998.14,497.14 1002.59,509.29 1007.04,514.29 1011.50,521.43 1015.95,529.29 1020.40,535.72 1024.85,543.57 1029.31,548.57 1033.76,553.57 1038.21,557.86 1042.66,561.43 1047.11,565.00 1051.57,567.86 1056.02,572.86 1060.47,576.43 1064.92,580.00 1069.38,583.57 1073.83,586.43 1078.28,588.86 1082.73,590.00 1087.19,590.71 1091.64,591.14 1096.09,591.25 1100.54,591.25 1104.99,591.25 1109.45,591.25 1113.90,591.25 1118.35,591.25 1122.80,591.25 1127.26,591.25 1131.71,591.25 1136.16,591.25 1140.61,591.25 1145.07,591.25 1149.52,591.25 1153.97,591.25 1158.42,591.25 1162.87,591.25 1167.33,591.25 1171.78,591.25 1176.23,591.25 1180.68,591.25 1185.14,591.25 1189.59,591.25 1194.04,591.25 1198.49,591.25 1202.95,591.25 1207.40,591.25 1211.85,591.25 1216.30,591.25 1220.76,591.25 1225.21,591.25 1229.66,591.25 1234.11,591.25 1238.56,591.25 1243.02,591.25 1247.47,591.25 1251.92,591.25 1256.37,591.25 1260.83,591.25 1265.28,591.25 1269.73,591.25 1274.18,591.25 1278.64,591.25 1283.09,591.25 1287.54,591.25 1291.99,591.25 1296.44,591.25 1300.90,591.25 1305.35,591.25 1309.80,591.25 1314.25,591.25 1318.71,591.25 1323.16,591.25 1327.61,591.25 1332.06,591.25 1336.52,591.25 1340.97,591.25 1345.42,591.25 1349.87,591.25 1354.32,591.25 1358.78,591.25 1363.23,591.25 1367.68,591.25 1372.13,591.25 1376.59,591.25 1381.04,591.25 1385.49,591.25 1389.94,591.25 1394.40,591.25 1398.85,591.25 1403.30,591.25 1407.75,591.25 1412.20,591.25 1416.66,591.25 1421.11,591.25" stroke="#ff0000" stroke-width="4.17"/>
</g>
<g stroke="#000000" stroke-width="1.11">
<line x1="90.5" y1="617.63" x2="90.5" y2="622.49"/>
<line x1="250.5" y1="617.63" x2="250.5" y2="622.49"/>
<line x1="410.5" y1="617.63" x2="410.5" y2="622.49"/>
<line x1="571.5" y1="617.63" x2="571.5" y2="622.49"/>
<line x1="731.5" y1="617.63" x2="731.5" y2="622.49"/>
<line x1="891.5" y1="617.63" x2="891.5" y2="622.49"/>
<line x1="1052.5" y1="617.63" x2="1052.5" y2="622.49"/>
<line x1="1212.5" y1="617.63" x2="1212.5" y2="622.49"/>
<line x1="1372.5" y1="617.63" x2="1372.5" y2="622.49"/>
<line x1="74.54" y1="591.5" x2="79.4" y2="591.5"/>
<line x1="74.54" y1="476.5" x2="79.4" y2="476.5"/>
<line x1="74.54" y1="361.5" x2="79.4" y2="361.5"/>
<line x1="74.54" y1="246.5" x2="79.4" y2="246.5"/>
<line x1="74.54" y1="131.5" x2="79.4" y2="131.5"/>
</g>
<rect x="79.5" y="37.5" width="1406.0" height="581.0" fill="none" stroke="#000000" stroke-width="1.11"/>
<g style="font-family:'DejaVu Sans','Liberation Sans',sans-serif;font-size:13.89px" fill="#000000">
<text transform="translate(86.97,636.25) rotate(-45)" text-anchor="end">23:00</text>
<text transform="translate(247.25,636.25) rotate(-45)" text-anchor="end">02:00</text>
<text transform="translate(407.54,636.25) rotate(-45)" text-anchor="end">05:00</text>
<text transform="translate(567.82,636.25) rotate(-45)" text-anchor="end">08:00</text>
<text transform="translate(728.10,636.25) rotate(-45)" text-anchor="end">11:00</text>
<text transform="translate(888.38,636.25) rotate(-45)" text-anchor="end">14:00</text>
<text transform="translate(1048.66,636.25) rotate(-45)" text-anchor="end">17:00</text>
<text transform="translate(1208.95,636.25) rotate(-45)" text-anchor="end">20:00</text>
<text transform="translate(1369.23,636.25) rotate(-45)" text-anchor="end">23:00</text>
<text x="69.9" y="597.55" text-anchor="end">0</text>
<text x="69.9" y="482.37" text-anchor="end">500</text>
<text x="69.9" y="367.18" text-anchor="end">1000</text>
<text x="69.9" y="252.00" text-anchor="end">1500</text>
<text x="69.9" y="136.82" text-anchor="end">2000</text>
<text x="782.2" y="682.0" text-anchor="middle" textLength="120.4" lengthAdjust="spacing">Time of Day (JST)</text>
<text transform="translate(25.3,327.48) rotate(-90)" text-anchor="middle" textLength="132.6" lengthAdjust="spacing">Average Power (W)</text>
</g>
<text x="782.2" y="28.6" text-anchor="middle" textLength="568.6" lengthAdjust="spacing" style="font-family:'DejaVu Sans','Liberation Sans',sans-serif;font-size:16.67px" fill="#000000">Weekly Solar Power Generation Overlay (2025-09-28 to 2025-10-04)</text>
<rect x="1316.18" y="44.28" width="161.88" height="171.72" rx="2.78" ry="2.78" fill="#ffffff" fill-opacity="0.8" stroke="#cccccc" stroke-opacity="0.8" stroke-width="1.39"/>
<g style="font-family:'DejaVu Sans','Liberation Sans',sans-serif;font-size:13.89px" fill="#000000">
<line x1="1321.74" y1="56.5" x2="1349.51" y2="56.5" stroke="#1f77b4" stroke-width="1.11" stroke-opacity="0.7" stroke-linecap="square"/>
<text x="1361.3" y="60.97">09/28</text>
<line x1="1321.74" y1="77.5" x2="1349.51" y2="77.5" stroke="#ff7f0e" stroke-width="1.11" stroke-opacity="0.7" stroke-linecap="square"/>
<text x="1361.3" y="81.92">09/29</text>
<line x1="1321.74" y1="98.5" x2="1349.51" y2="98.5" stroke="#2ca02c" stroke-width="1.11" stroke-opacity="0.7" stroke-linecap="square"/>
<text x="1361.3" y="102.86">09/30</text>
<line x1="1321.74" y1="119.5" x2="1349.51" y2="119.5" stroke="#d62728" stroke-width="1.11" stroke-opacity="0.7" stroke-linecap="square"/>
<text x="1361.3" y="123.81">10/01</text>
<line x1="1321.74" y1="140.5" x2="1349.51" y2="140.5" stroke="#9467bd" stroke-width="1.11" stroke-opacity="0.7" stroke-linecap="square"/>
<text x="1361.3" y="144.75">10/02</text>
<line x1="1321.74" y1="161.5" x2="1349.51" y2="161.5" stroke="#8c564b" stroke-width="1.11" stroke-opacity="0.7" stroke-linecap="square"/>
<text x="1361.3" y="165.69">10/03</text>
<line x1="1321.74" y1="182.5" x2="1349.51" y2="182.5" stroke="#e377c2" stroke-width="1.11" stroke-opacity="0.7" stroke-linecap="square"/>
<text x="1361.3" y="186.64">10/04</text>
<line x1="1321.74" y1="202.58" x2="1349.51" y2="202.58" stroke="#ff0000" stroke-width="4.17" stroke-linecap="square"/>
<text x="1361.3" y="207.58">Weekly Average</text>
</g>
</svg>
</body></html>
